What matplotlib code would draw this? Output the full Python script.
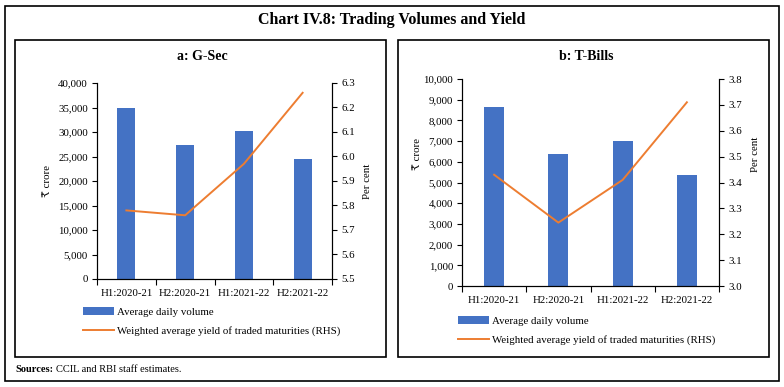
import matplotlib
matplotlib.use("Agg")
import matplotlib.pyplot as plt
from matplotlib.patches import Rectangle
from matplotlib.ticker import FuncFormatter, MultipleLocator

plt.rcParams['font.family'] = ['Liberation Serif', 'DejaVu Serif', 'DejaVu Sans']

categories = ["H1:2020-21", "H2:2020-21", "H1:2021-22", "H2:2021-22"]
gsec_volume = [34800, 27400, 30200, 24400]
gsec_yield = [5.78, 5.76, 5.97, 6.26]
tbill_volume = [8660, 6370, 7010, 5370]
tbill_yield = [3.43, 3.245, 3.41, 3.71]

bar_label = "Average daily volume"
line_label = "Weighted average yield of traded maturities (RHS)"
BAR_C = "#4472C4"
LINE_C = "#ED7D31"

W, H = 784, 387
fig = plt.figure(figsize=(W / 100, H / 100), dpi=100)


def fx(x):
    return x / W


def fy(y):
    return 1 - y / H


def box(x0, y0, x1, y1, lw=1.2):
    fig.add_artist(Rectangle((fx(x0), fy(y1)), fx(x1) - fx(x0), fy(y0) - fy(y1),
                             transform=fig.transFigure, fill=False, ec="black", lw=lw))


box(5, 6, 779, 381)
box(15, 40, 386, 357)
box(398, 40, 769, 357)

fig.text(fx(392), fy(20), "Chart IV.8: Trading Volumes and Yield", ha="center", va="center",
         fontsize=11.5, fontweight="bold")
src = fig.text(fx(15), fy(370), "Sources:", ha="left", va="center", fontsize=7.5, fontweight="bold")
fig.add_artist(matplotlib.text.Annotation("CCIL and RBI staff estimates.", xy=(1, 0.5),
                                          xycoords=src, xytext=(2.5, 0), textcoords="offset points",
                                          ha="left", va="center", fontsize=7.5))

TS = 7.8


def panel(rect, title, title_xy, vol, yld, ymax, ystep, y2lim, ylab_x, y2lab_x, ylab_y, leg_y):
    x0, y0, x1, y1 = rect
    ax = fig.add_axes([fx(x0), fy(y1), fx(x1) - fx(x0), fy(y0) - fy(y1)])
    xs = range(len(categories))
    bars = ax.bar(xs, vol, width=0.31, color=BAR_C, zorder=2)
    ax.set_xlim(-0.5, len(categories) - 0.5)
    ax.set_ylim(0, ymax)
    ax.yaxis.set_major_locator(MultipleLocator(ystep))
    ax.yaxis.set_major_formatter(FuncFormatter(lambda v, p: f"{int(v):,}"))
    ax.set_xticks(list(xs))
    ax.set_xticklabels(categories)
    ax.set_xticks([i - 0.5 for i in range(len(categories) + 1)], minor=True)
    ax.tick_params(axis="x", which="major", length=0, labelsize=TS, pad=7)
    ax.tick_params(axis="x", which="minor", length=4, width=0.8, direction="out")
    ax.tick_params(axis="y", length=3.5, width=0.8, labelsize=TS, pad=3)
    ax.spines["top"].set_visible(False)
    for s in ("left", "bottom", "right"):
        ax.spines[s].set_linewidth(0.8)
    ax2 = ax.twinx()
    ln, = ax2.plot(list(xs), yld, color=LINE_C, lw=1.4, zorder=3)
    ax2.set_ylim(*y2lim)
    ax2.yaxis.set_major_locator(MultipleLocator(0.1))
    ax2.yaxis.set_major_formatter(FuncFormatter(lambda v, p: f"{v:.1f}"))
    ax2.tick_params(axis="y", length=3.5, width=0.8, labelsize=TS, pad=3)
    ax2.spines["top"].set_visible(False)
    ax2.spines["right"].set_linewidth(0.8)
    fig.text(fx(ylab_x), fy(ylab_y), "₹ crore", rotation=90, ha="center", va="center", fontsize=TS)
    fig.text(fx(y2lab_x), fy(ylab_y), "Per cent", rotation=90, ha="center", va="center", fontsize=TS)
    fig.text(fx(title_xy[0]), fy(title_xy[1]), title, ha="center", va="center",
             fontsize=10, fontweight="bold")
    fig.legend([bars, ln], [bar_label, line_label], loc="upper left",
               bbox_to_anchor=(fx(leg_y[0]), fy(leg_y[1])), frameon=False,
               fontsize=TS, handlelength=2.9, handletextpad=0.2, labelspacing=0.85,
               borderaxespad=0, borderpad=0)
    return ax


panel((97, 83, 332, 279), "a: G-Sec", (202, 57), gsec_volume, gsec_yield, 40000, 5000,
      (5.5, 6.3), 48, 367, 181, (83, 307))
panel((462, 79, 719, 286), "b: T-Bills", (586, 56), tbill_volume, tbill_yield, 10000, 1000,
      (3.0, 3.8), 418, 755, 154, (458, 316))

fig.savefig("out.png", dpi=100)
